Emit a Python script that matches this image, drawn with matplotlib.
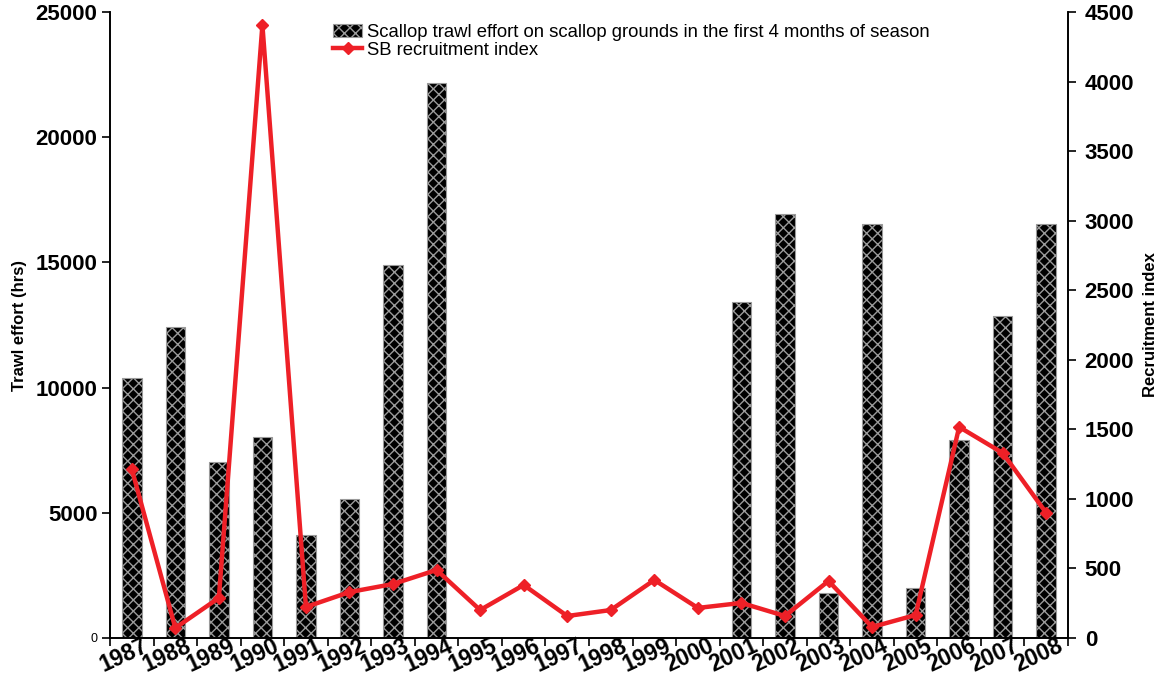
import matplotlib
matplotlib.use("Agg")
import matplotlib.pyplot as plt
import matplotlib.transforms as mtransforms
import numpy as np

plt.rcParams['font.family'] = ['Liberation Sans', 'DejaVu Sans']
plt.rcParams['hatch.color'] = '#9a9a9a'
plt.rcParams['hatch.linewidth'] = 1.0

years = [str(y) for y in range(1987, 2009)]
effort = [10380, 12420, 7030, 8030, 4100, 5550, 14900, 22150,
          0, 0, 0, 0, 0, 0,
          13400, 16950, 1800, 16550, 2000, 7900, 12860, 16550]
recruit = [1215, 72, 288, 4407, 223, 330, 388, 489, 201, 381, 158, 201,
           417, 216, 252, 158, 410, 79, 165, 1517, 1330, 899]
left_ticks = [0, 5000, 10000, 15000, 20000, 25000]
right_ticks = [0, 500, 1000, 1500, 2000, 2500, 3000, 3500, 4000, 4500]

fig = plt.figure(figsize=(11.59, 6.79), dpi=100)
ax = fig.add_axes([0.0949, 0.0604, 0.8266, 0.9219])
ax2 = ax.twinx()

x = np.arange(len(years))
bars = ax.bar(x, effort, width=0.45, color='black', edgecolor='#9a9a9a',
              hatch='xxx', linewidth=0.8,
              label='Scallop trawl effort on scallop grounds in the first 4 months of season')
line, = ax2.plot(x, recruit, color='#ee2027', lw=3.2, marker='D', ms=6,
                 label='SB recruitment index')

ax.set_xlim(-0.5, len(years) - 0.5)
ax.set_ylim(0, 25000)
ax2.set_ylim(0, 4500)

ax.set_xticks(np.arange(-0.5, len(years), 1.0))
ax.set_xticklabels([])
ax.set_xticks(x, minor=True)
ax.set_xticklabels(years, minor=True, rotation=25, ha='right', va='center',
                   rotation_mode='anchor', fontsize=16.5, fontweight='bold')
ax.tick_params(axis='x', which='major', direction='out', length=6, width=1.2)
ax.tick_params(axis='x', which='minor', length=0, pad=5)
offset = mtransforms.ScaledTranslation(0.15, 0, fig.dpi_scale_trans)
for lab in ax.get_xticklabels(minor=True):
    lab.set_transform(lab.get_transform() + offset)

ax.set_yticks(left_ticks)
ax.set_yticklabels([str(t) for t in left_ticks])
ax.tick_params(axis='y', direction='out', length=6, width=1.2, pad=3)
for i, lab in enumerate(ax.get_yticklabels()):
    if i == 0:
        lab.set_fontsize(9)
        lab.set_fontweight('normal')
    else:
        lab.set_fontsize(16)
        lab.set_fontweight('bold')

ax2.set_yticks(right_ticks)
ax2.set_yticklabels([str(t) for t in right_ticks], fontsize=16, fontweight='bold')
ax2.tick_params(axis='y', direction='out', length=6, width=1.2, pad=6)

for a in (ax, ax2):
    a.spines['top'].set_visible(False)
    for s in ('left', 'right', 'bottom'):
        a.spines[s].set_linewidth(1.2)

ax.set_ylabel('Trawl effort (hrs)', fontsize=12, fontweight='bold', labelpad=6)
ax2.set_ylabel('Recruitment index', fontsize=12, fontweight='bold', labelpad=6)

ax2.legend([bars, line], [bars.get_label(), line.get_label()],
           loc='upper left', bbox_to_anchor=(0.225, 0.993), frameon=False,
           fontsize=13.3, handlelength=1.6, handletextpad=0.25,
           borderaxespad=0, labelspacing=0.05)

fig.savefig('out.png', dpi=100)
